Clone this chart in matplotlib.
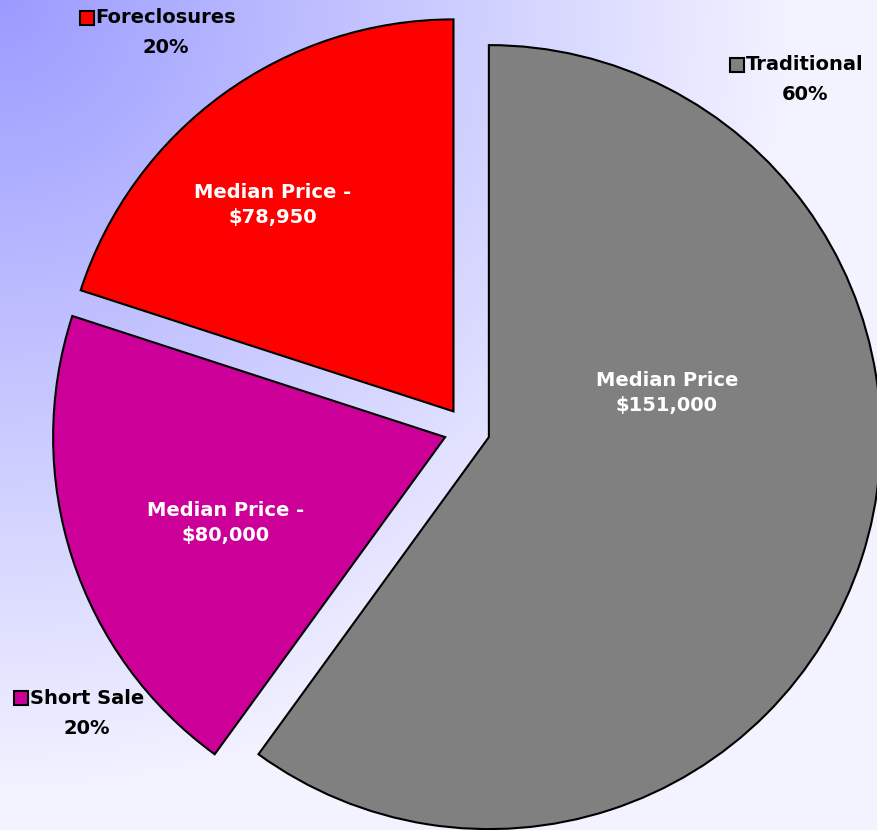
import numpy as np
import matplotlib.pyplot as plt

categories = ['Traditional', 'Short Sale', 'Foreclosures']
shares = [60, 20, 20]
median_labels = ['Median Price\n$151,000', 'Median Price -\n$80,000', 'Median Price -\n$78,950']
colors = ['#808080', '#CC0099', '#FF0000']

W, H = 878, 830
fig = plt.figure(figsize=(W / 100, H / 100), dpi=100)
ax = fig.add_axes([0, 0, 1, 1])

# radial background gradient from the top-left corner
yy, xx = np.mgrid[0:H, 0:W]
t = np.clip(np.hypot(xx, yy) / 800.0, 0, 1)[..., None]
c0 = np.array([155, 155, 255]) / 255
c1 = np.array([243, 243, 255]) / 255
bg = c0 * (1 - t) + c1 * t
ax.imshow(bg, extent=(0, W, 0, H), origin='upper', zorder=0)

# explode is in data units here (pixels)
wedges, _ = ax.pie(shares, colors=colors, startangle=90, counterclock=False,
                   explode=[23] * 3, radius=392, center=(467, H - 430),
                   wedgeprops=dict(edgecolor='black', linewidth=1.5))
for w in wedges:
    w.set_zorder(2)

ax.set_xlim(0, W)
ax.set_ylim(0, H)
ax.set_aspect('auto')
ax.axis('off')

font = dict(family='DejaVu Sans', weight='bold', fontsize=14)

# labels inside the slices
inner_pos = [(667, 393), (226, 523), (273, 205)]
for (x, y), txt in zip(inner_pos, median_labels):
    ax.text(x, H - y, txt, color='white', ha='center', va='center',
            linespacing=1.4, zorder=3, **font)

# category / percent labels outside
outer_pos = [(805, 65), (87, 698), (166, 18)]
names = []
for (x, y), name, val in zip(outer_pos, categories, shares):
    names.append(ax.text(x, H - y, name, color='black', ha='center',
                         va='center', zorder=3, **font))
    ax.text(x, H - y - 30, f'{val}%', color='black', ha='center',
            va='center', zorder=3, **font)

fig.canvas.draw()
r = fig.canvas.get_renderer()
for txt, col, (x, y) in zip(names, colors, outer_pos):
    left = txt.get_window_extent(r).x0
    ax.plot(left - 9, H - y, marker='s', markersize=10,
            markerfacecolor=col, markeredgecolor='black',
            markeredgewidth=1.5, zorder=3)

fig.savefig('out.png', dpi=100)
